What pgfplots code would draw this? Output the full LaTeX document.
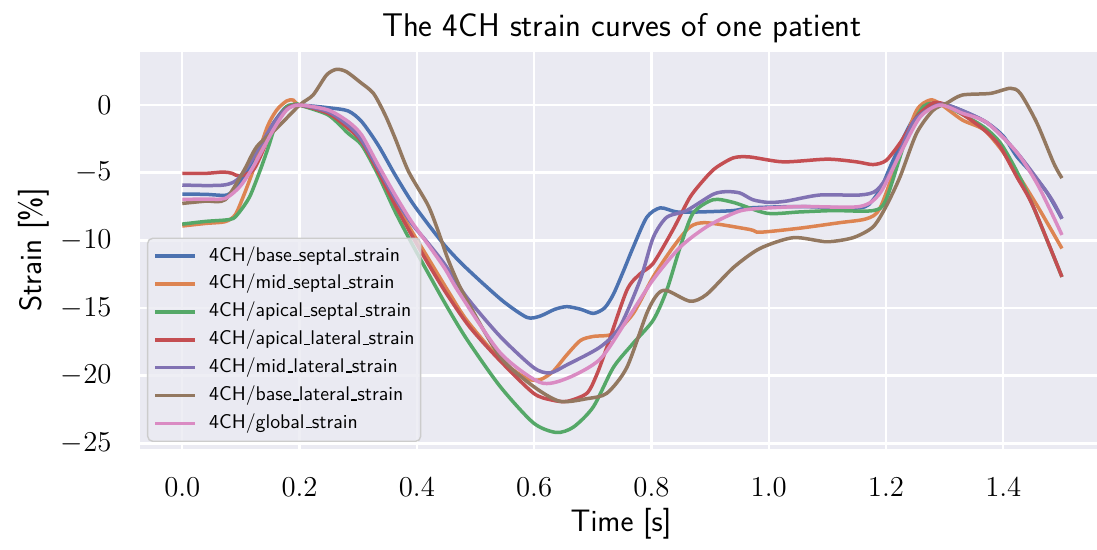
\documentclass[border=0pt]{standalone}
\usepackage{pgfplots}
\pgfplotsset{compat=1.18}
\definecolor{bgc}{HTML}{EAEAF2}
\definecolor{sblue}{HTML}{4C72B0}
\definecolor{sorange}{HTML}{DD8452}
\definecolor{sgreen}{HTML}{55A868}
\definecolor{sred}{HTML}{C44E52}
\definecolor{spurple}{HTML}{8172B3}
\definecolor{sbrown}{HTML}{937860}
\definecolor{spink}{HTML}{DA8BC3}
\newcommand\us{\leavevmode\kern.06em\vbox{\hrule width.3em height 0.6pt}}
\begin{document}
\begin{tikzpicture}
\begin{axis}[
  name=ax,
  scale only axis,
  width=478.5pt, height=198.5pt,
  xmin=-0.0721, xmax=1.5598,
  ymin=-25.42, ymax=3.92,
  axis background/.style={fill=bgc},
  axis line style={draw=none},
  tick style={draw=none},
  grid=major,
  major grid style={white, line width=1.2pt},
  xtick={0,0.2,0.4,0.6,0.8,1.0,1.2,1.4},
  ytick={-25,-20,-15,-10,-5,0},
  xticklabel={\pgfmathprintnumber[fixed,fixed zerofill,precision=1]{\tick}},
  every x tick label/.append style={font=\fontsize{14.5}{17}\selectfont, anchor=north, inner sep=0pt, yshift=-14.5pt},
  every y tick label/.append style={font=\fontsize{14.5}{17}\selectfont, anchor=east, inner sep=0pt, xshift=-14pt},
  legend cell align=left,
  legend image code/.code={\draw[#1, line width=1.75pt] (0pt,0pt) -- (20pt,0pt);},
  legend style={at={(0,0)}, anchor=south west, xshift=3.5pt, yshift=3.5pt,
    fill=bgc, fill opacity=0.8, draw opacity=1, text opacity=1,
    draw={rgb,255:red,204;green,204;blue,204}, line width=0.7pt, rounded corners=2.5pt,
    font=\sffamily\fontsize{9.9}{12}\selectfont,
    inner xsep=3pt, inner ysep=4.4pt, row sep=4.95pt, column sep=6pt,
    nodes={inner sep=0pt, text height=7pt, text depth=2pt}},
  every axis plot/.append style={line width=1.75pt, smooth, tension=0.45},
]
\addplot[sblue] coordinates {(0,-6.58)(0.04,-6.6)(0.076,-6.65)(0.093,-6.04)(0.110,-4.93)(0.133,-3.08)(0.155,-1.36)(0.178,-0.12)(0.2,0)(0.249,-0.2)(0.283,-0.44)(0.306,-1.23)(0.334,-2.96)(0.363,-5.17)(0.391,-7.14)(0.419,-8.8)(0.448,-10.4)(0.476,-11.7)(0.513,-13.2)(0.55,-14.6)(0.588,-15.7)(0.61,-15.6)(0.635,-15.1)(0.656,-14.9)(0.68,-15.1)(0.701,-15.4)(0.72,-15.0)(0.735,-14.0)(0.752,-12.3)(0.769,-10.5)(0.792,-8.3)(0.815,-7.6)(0.843,-7.9)(0.883,-7.9)(0.94,-7.8)(0.968,-7.6)(1.053,-7.5)(1.155,-7.6)(1.178,-7.0)(1.195,-5.8)(1.212,-4.1)(1.246,-1.1)(1.28,-0.15)(1.304,0)(1.34,-0.6)(1.372,-1.3)(1.4,-2.3)(1.423,-3.8)(1.45,-5.1)(1.475,-6.5)(1.5,-8.4)};
\addlegendentry{4CH/base\us septal\us strain}
\addplot[sorange] coordinates {(0,-8.94)(0.04,-8.75)(0.073,-8.62)(0.09,-8.13)(0.104,-6.77)(0.121,-4.8)(0.144,-1.72)(0.161,-0.37)(0.178,0.3)(0.189,0.37)(0.2,0)(0.249,-0.5)(0.283,-1.6)(0.306,-2.6)(0.334,-4.7)(0.363,-7.2)(0.391,-9.3)(0.419,-11.3)(0.454,-13.8)(0.485,-15.9)(0.542,-18.8)(0.587,-20.2)(0.61,-20.3)(0.632,-19.7)(0.655,-18.5)(0.679,-17.4)(0.701,-17.1)(0.735,-16.9)(0.769,-15.4)(0.803,-12.7)(0.837,-10.5)(0.866,-9.0)(0.894,-8.7)(0.968,-9.2)(0.985,-9.4)(1.053,-9.1)(1.12,-8.7)(1.167,-8.4)(1.19,-7.6)(1.224,-3.6)(1.252,-0.4)(1.275,0.37)(1.292,0.1)(1.33,-1.1)(1.366,-1.8)(1.395,-3.2)(1.423,-5.0)(1.46,-7.6)(1.5,-10.6)};
\addlegendentry{4CH/mid\us septal\us strain}
\addplot[sgreen] coordinates {(0,-8.8)(0.04,-8.6)(0.073,-8.5)(0.087,-8.38)(0.098,-7.88)(0.115,-6.77)(0.133,-4.8)(0.147,-3.08)(0.161,-1.23)(0.178,-0.12)(0.195,0.07)(0.2,0)(0.249,-0.74)(0.283,-2.1)(0.306,-2.96)(0.334,-5.17)(0.363,-7.88)(0.391,-10.2)(0.419,-12.4)(0.45,-14.8)(0.485,-17.3)(0.542,-20.8)(0.599,-23.5)(0.638,-24.2)(0.667,-23.8)(0.701,-22.3)(0.735,-19.4)(0.769,-17.6)(0.803,-15.9)(0.826,-13.7)(0.849,-10.5)(0.871,-8.0)(0.905,-7.0)(0.94,-7.2)(0.997,-8.0)(1.053,-7.9)(1.11,-7.8)(1.178,-7.8)(1.2,-7.0)(1.235,-2.4)(1.264,-0.1)(1.292,0.1)(1.318,-0.4)(1.366,-1.6)(1.395,-2.8)(1.423,-4.9)(1.451,-7.5)(1.5,-12.7)};
\addlegendentry{4CH/apical\us septal\us strain}
\addplot[sred] coordinates {(0,-5.05)(0.04,-5.05)(0.07,-4.95)(0.085,-5.05)(0.098,-5.25)(0.121,-4.8)(0.138,-3.33)(0.155,-1.48)(0.178,-0.25)(0.2,0)(0.249,-0.62)(0.283,-1.72)(0.306,-2.71)(0.334,-4.93)(0.363,-7.39)(0.391,-9.6)(0.419,-11.7)(0.45,-13.9)(0.49,-16.4)(0.542,-18.9)(0.599,-21.3)(0.63,-21.8)(0.656,-21.9)(0.69,-21.3)(0.707,-19.9)(0.724,-17.9)(0.758,-13.7)(0.78,-12.5)(0.803,-11.7)(0.837,-9.2)(0.866,-6.8)(0.894,-5.3)(0.911,-4.6)(0.94,-3.9)(0.968,-3.84)(1.025,-4.2)(1.1,-4.0)(1.15,-4.2)(1.178,-4.4)(1.2,-4.1)(1.224,-2.8)(1.252,-0.9)(1.28,0.15)(1.304,0)(1.338,-0.9)(1.372,-2.0)(1.395,-3.1)(1.423,-5.3)(1.451,-7.5)(1.5,-12.7)};
\addlegendentry{4CH/apical\us lateral\us strain}
\addplot[spurple] coordinates {(0,-5.91)(0.04,-5.95)(0.073,-5.9)(0.093,-5.54)(0.115,-4.31)(0.133,-3.0)(0.155,-1.4)(0.178,-0.3)(0.2,0)(0.249,-0.5)(0.283,-1.5)(0.306,-2.59)(0.334,-4.68)(0.363,-6.9)(0.391,-8.75)(0.419,-10.2)(0.448,-11.8)(0.485,-14.2)(0.542,-17.1)(0.599,-19.4)(0.627,-19.8)(0.656,-19.2)(0.712,-17.9)(0.746,-16.4)(0.781,-12.9)(0.803,-9.8)(0.826,-8.3)(0.86,-7.8)(0.905,-6.6)(0.928,-6.4)(0.951,-6.5)(0.973,-7.0)(1.0,-7.2)(1.03,-7.1)(1.087,-6.65)(1.155,-6.65)(1.184,-6.3)(1.212,-4.6)(1.246,-1.3)(1.28,-0.15)(1.304,0)(1.372,-1.3)(1.423,-3.5)(1.48,-6.8)(1.5,-8.4)};
\addlegendentry{4CH/mid\us lateral\us strain}
\addplot[sbrown] coordinates {(0,-7.27)(0.04,-7.1)(0.073,-7.0)(0.104,-4.93)(0.127,-3.08)(0.161,-1.72)(0.2,0)(0.223,0.74)(0.246,2.22)(0.263,2.64)(0.28,2.46)(0.303,1.7)(0.326,0.86)(0.346,-0.74)(0.363,-2.46)(0.386,-4.93)(0.419,-7.4)(0.437,-9.4)(0.454,-11.5)(0.48,-14.0)(0.542,-18.6)(0.599,-20.8)(0.644,-21.9)(0.69,-21.7)(0.724,-21.3)(0.758,-19.4)(0.792,-15.4)(0.81,-14.0)(0.826,-13.7)(0.866,-14.5)(0.894,-14.0)(0.94,-12.0)(0.985,-10.6)(1.042,-9.8)(1.099,-10.1)(1.144,-9.8)(1.178,-9.0)(1.2,-7.5)(1.224,-5.3)(1.252,-2.1)(1.28,-0.4)(1.304,0.15)(1.33,0.74)(1.378,0.86)(1.412,1.24)(1.429,0.86)(1.457,-1.3)(1.486,-4.3)(1.5,-5.4)};
\addlegendentry{4CH/base\us lateral\us strain}
\addplot[spink] coordinates {(0,-6.97)(0.04,-6.95)(0.073,-6.9)(0.098,-6.04)(0.121,-4.56)(0.155,-1.85)(0.178,-0.37)(0.2,0)(0.249,-0.37)(0.283,-1.23)(0.306,-2.22)(0.334,-4.43)(0.363,-6.65)(0.391,-8.62)(0.419,-10.3)(0.448,-12.1)(0.471,-13.8)(0.542,-18.3)(0.61,-20.5)(0.656,-20.2)(0.712,-18.8)(0.758,-15.9)(0.803,-12.9)(0.849,-10.5)(0.894,-9.0)(0.94,-8.0)(0.968,-7.7)(1.053,-7.5)(1.155,-7.5)(1.19,-6.5)(1.224,-3.6)(1.258,-0.9)(1.292,0)(1.33,-0.6)(1.372,-1.3)(1.423,-3.5)(1.46,-6.0)(1.5,-9.6)};
\addlegendentry{4CH/global\us strain}
\end{axis}
\begin{scope}[shift={(ax.south west)}]
\node[anchor=base, font=\sffamily\fontsize{16.4}{19}\selectfont] at (241pt,206pt) {The 4CH strain curves of one patient};
\node[anchor=base, font=\sffamily\fontsize{15.5}{18}\selectfont] at (240.5pt,-41.5pt) {Time [s]};
\node[anchor=base, rotate=90, font=\sffamily\fontsize{15.5}{18}\selectfont] at (-49pt,99.5pt) {Strain [\%]};
\pgfresetboundingbox
\path (-70pt,-50.5pt) rectangle (478.5pt,224.5pt);
\end{scope}
\end{tikzpicture}
\end{document}
